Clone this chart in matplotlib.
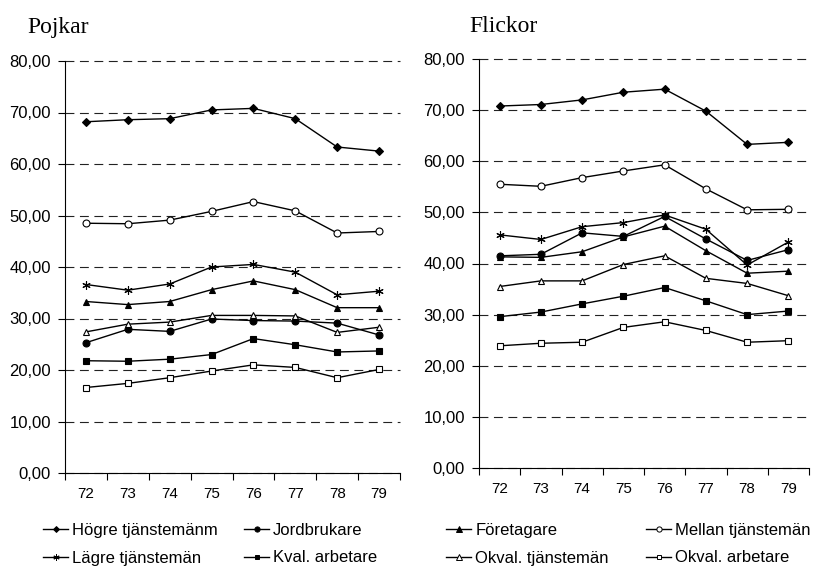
import matplotlib.pyplot as plt
from matplotlib.lines import Line2D
from matplotlib.ticker import FuncFormatter, MultipleLocator

# Years (categories)
years = [72, 73, 74, 75, 76, 77, 78, 79]
year_labels = ['72', '73', '74', '75', '76', '77', '78', '79']

# Pojkar
boys_hogre = [68.2, 68.6, 68.8, 70.5, 70.8, 68.8, 63.3, 62.5]
boys_mellan = [48.5, 48.4, 49.1, 50.8, 52.7, 50.9, 46.6, 46.9]
boys_lagre = [36.6, 35.5, 36.7, 40.0, 40.5, 39.0, 34.6, 35.3]
boys_foretagare = [33.3, 32.7, 33.3, 35.6, 37.3, 35.6, 32.1, 32.1]
boys_okval_tj = [27.4, 28.9, 29.3, 30.6, 30.6, 30.5, 27.3, 28.3]
boys_jordbrukare = [25.3, 27.9, 27.5, 29.9, 29.6, 29.5, 29.1, 26.8]
boys_kval_arb = [21.8, 21.7, 22.1, 23.0, 26.1, 24.9, 23.5, 23.7]
boys_okval_arb = [16.6, 17.4, 18.5, 19.8, 21.0, 20.5, 18.5, 20.1]

# Flickor
girls_hogre = [70.8, 71.1, 72.0, 73.5, 74.1, 69.8, 63.3, 63.7]
girls_mellan = [55.5, 55.1, 56.8, 58.1, 59.3, 54.6, 50.5, 50.6]
girls_lagre = [45.6, 44.7, 47.2, 48.0, 49.5, 46.7, 39.7, 44.2]
girls_foretagare = [41.3, 41.2, 42.3, 45.2, 47.3, 42.5, 38.1, 38.5]
girls_okval_tj = [35.5, 36.6, 36.6, 39.8, 41.5, 37.1, 36.1, 33.7]
girls_jordbrukare = [41.5, 41.8, 46.0, 45.3, 49.2, 44.8, 40.6, 42.7]
girls_kval_arb = [29.6, 30.5, 32.1, 33.6, 35.3, 32.7, 30.0, 30.7]
girls_okval_arb = [23.9, 24.4, 24.6, 27.5, 28.6, 26.9, 24.6, 24.9]

series_names = ['Högre tjänstemänm', 'Jordbrukare', 'Företagare', 'Mellan tjänstemän',
                'Lägre tjänstemän', 'Kval. arbetare', 'Okval. tjänstemän', 'Okval. arbetare']

# marker style per series
styles = {
    'Högre tjänstemänm': dict(marker='D', ms=4, mfc='black'),
    'Jordbrukare': dict(marker='o', ms=5, mfc='black'),
    'Företagare': dict(marker='^', ms=5, mfc='black'),
    'Mellan tjänstemän': dict(marker='o', ms=5, mfc='white'),
    'Lägre tjänstemän': dict(marker=(6, 2, 0), ms=6, mfc='black'),
    'Kval. arbetare': dict(marker='s', ms=4.5, mfc='black'),
    'Okval. tjänstemän': dict(marker='^', ms=5, mfc='white'),
    'Okval. arbetare': dict(marker='s', ms=4.5, mfc='white'),
}

boys = {
    'Högre tjänstemänm': boys_hogre, 'Jordbrukare': boys_jordbrukare,
    'Företagare': boys_foretagare, 'Mellan tjänstemän': boys_mellan,
    'Lägre tjänstemän': boys_lagre, 'Kval. arbetare': boys_kval_arb,
    'Okval. tjänstemän': boys_okval_tj, 'Okval. arbetare': boys_okval_arb,
}
girls = {
    'Högre tjänstemänm': girls_hogre, 'Jordbrukare': girls_jordbrukare,
    'Företagare': girls_foretagare, 'Mellan tjänstemän': girls_mellan,
    'Lägre tjänstemän': girls_lagre, 'Kval. arbetare': girls_kval_arb,
    'Okval. tjänstemän': girls_okval_tj, 'Okval. arbetare': girls_okval_arb,
}

plt.rcParams['font.family'] = ['Liberation Sans', 'DejaVu Sans']

fig = plt.figure(figsize=(8.14, 5.74), dpi=100)
W, H = 814, 574
ax1 = fig.add_axes([65 / W, 1 - 473 / H, (400 - 65) / W, (473 - 61) / H])
ax2 = fig.add_axes([479 / W, 1 - 468 / H, (809 - 479) / W, (468 - 59) / H])


def style_axis(ax, data):
    for name in series_names:
        ax.plot(years, data[name], color='black', linewidth=1, mec='black',
                mew=0.8, zorder=3, **styles[name])
    ax.set_ylim(0, 80)
    ax.set_xlim(71.5, 79.5)
    ax.yaxis.set_major_locator(MultipleLocator(10))
    ax.yaxis.set_major_formatter(FuncFormatter(lambda v, p: f'{v:.2f}'.replace('.', ',')))
    ax.set_xticks(years)
    ax.set_xticklabels(year_labels)
    ax.set_xticks([y - 0.5 for y in years] + [79.5], minor=True)
    ax.tick_params(axis='x', which='major', length=0, pad=10, labelsize=11)
    ax.tick_params(axis='x', which='minor', length=5, width=0.8)
    ax.tick_params(axis='y', length=5, width=0.8, labelsize=12, pad=5)
    ax.spines['top'].set_visible(False)
    ax.spines['right'].set_visible(False)
    ax.spines['left'].set_linewidth(0.8)
    ax.spines['bottom'].set_linewidth(0.8)
    ax.grid(axis='y', color='#222222', linestyle=(0, (8, 5)), linewidth=0.8)
    for line in ax.get_ygridlines():
        line.set_clip_on(False)
    ax.set_axisbelow(True)


style_axis(ax1, boys)
style_axis(ax2, girls)

fig.text(27 / W, 1 - 33 / H, 'Pojkar', family='Liberation Serif', fontsize=17, va='baseline')
fig.text(469 / W, 1 - 32 / H, 'Flickor', family='Liberation Serif', fontsize=17, va='baseline')

# legend: four columns placed separately
col_x = [43, 244, 446, 646]
cols = [['Högre tjänstemänm', 'Lägre tjänstemän'],
        ['Jordbrukare', 'Kval. arbetare'],
        ['Företagare', 'Okval. tjänstemän'],
        ['Mellan tjänstemän', 'Okval. arbetare']]
for cx, names in zip(col_x, cols):
    handles = []
    for name in names:
        st = dict(styles[name])
        st['ms'] = st['ms'] * 0.75
        handles.append(Line2D([], [], color='black', linewidth=1, mec='black', mew=0.7, **st))
    fig.legend(handles, names, loc='upper left', bbox_to_anchor=(cx / W, 1 - 523 / H),
               frameon=False, fontsize=12, handlelength=1.5,
               handletextpad=0.25, labelspacing=0.75, borderpad=0, borderaxespad=0)

fig.savefig('out.png', dpi=100)
